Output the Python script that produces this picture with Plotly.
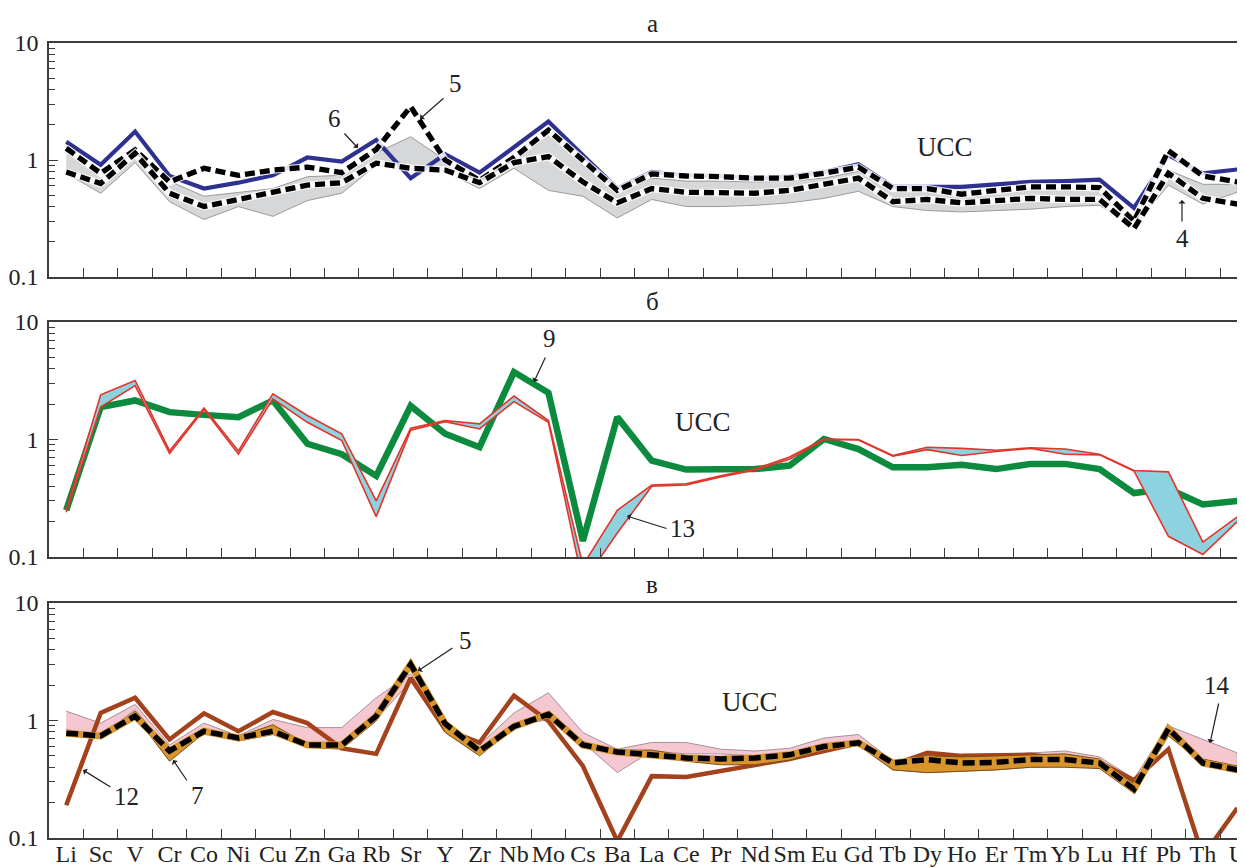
import math
import plotly.graph_objects as go

# ---------------- data ----------------
elements = ["Li", "Sc", "V", "Cr", "Co", "Ni", "Cu", "Zn", "Ga", "Rb", "Sr", "Y", "Zr", "Nb", "Mo",
            "Cs", "Ba", "La", "Ce", "Pr", "Nd", "Sm", "Eu", "Gd", "Tb", "Dy", "Ho", "Er", "Tm", "Yb",
            "Lu", "Hf", "Pb", "Th", "U"]
UCC = 1.0

# panel а
a_blue6 = [1.43, 0.91, 1.75, 0.73, 0.57, 0.64, 0.74, 1.05, 0.97, 1.48, 0.70, 1.12, 0.78, 1.30, 2.13,
           1.10, 0.57, 0.79, 0.74, 0.73, 0.70, 0.72, 0.79, 0.92, 0.59, 0.59, 0.59, 0.62, 0.65, 0.66,
           0.68, 0.39, 1.10, 0.77, 0.83]
a_dash5_upper = [1.26, 0.77, 1.22, 0.65, 0.85, 0.74, 0.82, 0.87, 0.78, 1.23, 2.86, 1.00, 0.67, 1.05, 1.80,
                 1.00, 0.55, 0.76, 0.73, 0.72, 0.70, 0.70, 0.77, 0.87, 0.57, 0.57, 0.51, 0.55, 0.59, 0.59,
                 0.58, 0.30, 1.20, 0.73, 0.65]
a_dash5_lower = [0.79, 0.63, 1.14, 0.52, 0.40, 0.46, 0.54, 0.61, 0.64, 0.94, 0.85, 0.82, 0.64, 0.95, 1.07,
                 0.65, 0.43, 0.57, 0.53, 0.52, 0.52, 0.55, 0.62, 0.70, 0.44, 0.46, 0.43, 0.45, 0.47, 0.46,
                 0.46, 0.26, 0.77, 0.47, 0.42]
a_band4_max = [1.30, 0.80, 1.20, 0.66, 0.49, 0.53, 0.57, 0.72, 0.74, 1.15, 1.58, 1.00, 0.65, 0.95, 1.75,
               0.90, 0.53, 0.70, 0.66, 0.66, 0.65, 0.66, 0.70, 0.80, 0.57, 0.56, 0.55, 0.56, 0.57, 0.57,
               0.59, 0.33, 0.82, 0.62, 0.62]
a_band4_min = [0.77, 0.52, 0.95, 0.44, 0.31, 0.40, 0.33, 0.45, 0.52, 0.90, 0.82, 0.80, 0.57, 0.85, 0.55,
               0.49, 0.32, 0.46, 0.40, 0.40, 0.41, 0.43, 0.47, 0.54, 0.40, 0.37, 0.36, 0.37, 0.38, 0.40,
               0.41, 0.27, 0.61, 0.42, 0.53]

# panel б
b_green9 = [0.25, 1.89, 2.15, 1.71, 1.62, 1.55, 2.15, 0.92, 0.75, 0.49, 1.93, 1.12, 0.86, 3.75, 2.50,
            0.137, 1.55, 0.66, 0.555, 0.555, 0.56, 0.60, 1.01, 0.83, 0.58, 0.58, 0.61, 0.56, 0.62, 0.62,
            0.56, 0.35, 0.38, 0.28, 0.30]
b_band13_max = [0.25, 2.40, 3.18, 0.80, 1.85, 0.80, 2.45, 1.60, 1.12, 0.30, 1.25, 1.45, 1.36, 2.34, 1.45,
                0.085, 0.25, 0.41, 0.42, 0.49, 0.56, 0.71, 1.01, 1.00, 0.73, 0.86, 0.84, 0.81, 0.85, 0.83,
                0.75, 0.545, 0.53, 0.134, 0.22]
b_band13_min = [0.24, 1.89, 2.88, 0.76, 1.80, 0.75, 2.22, 1.40, 0.98, 0.22, 1.20, 1.42, 1.23, 2.10, 1.40,
                0.06, 0.16, 0.40, 0.41, 0.48, 0.55, 0.68, 1.00, 0.99, 0.72, 0.82, 0.73, 0.79, 0.84, 0.75,
                0.74, 0.54, 0.15, 0.105, 0.20]

# panel в
c_brown12 = [0.19, 1.16, 1.56, 0.69, 1.15, 0.81, 1.18, 0.95, 0.58, 0.52, 2.30, 0.84, 0.65, 1.63, 0.99,
             0.41, 0.094, 0.336, 0.33, 0.37, 0.41, 0.47, 0.55, 0.64, 0.42, 0.53, 0.50, 0.50, 0.51, 0.47,
             0.44, 0.31, 0.57, 0.07, 0.18]
c_band14_max = [1.20, 0.95, 1.37, 0.62, 0.95, 0.74, 1.02, 0.87, 0.87, 1.56, 2.50, 0.95, 0.62, 1.16, 1.72,
                0.79, 0.57, 0.65, 0.65, 0.57, 0.55, 0.58, 0.71, 0.76, 0.45, 0.50, 0.49, 0.50, 0.53, 0.55,
                0.49, 0.32, 0.90, 0.69, 0.53]
c_band14_min = [0.84, 0.74, 1.24, 0.55, 0.84, 0.69, 0.87, 0.62, 0.62, 1.02, 2.16, 0.87, 0.57, 0.89, 1.02,
                0.65, 0.36, 0.55, 0.52, 0.52, 0.50, 0.52, 0.60, 0.61, 0.38, 0.36, 0.37, 0.38, 0.40, 0.41,
                0.40, 0.25, 0.77, 0.44, 0.37]
c_band7_max = [0.78, 0.74, 1.20, 0.58, 0.82, 0.73, 0.92, 0.63, 0.63, 1.16, 3.00, 0.95, 0.57, 0.91, 1.17,
               0.66, 0.56, 0.56, 0.50, 0.48, 0.47, 0.51, 0.61, 0.67, 0.45, 0.50, 0.49, 0.50, 0.51, 0.52,
               0.47, 0.29, 0.90, 0.47, 0.41]
c_band7_min = [0.74, 0.72, 1.09, 0.45, 0.78, 0.67, 0.76, 0.59, 0.57, 0.99, 2.80, 0.79, 0.50, 0.86, 1.06,
               0.62, 0.52, 0.50, 0.45, 0.42, 0.42, 0.46, 0.57, 0.62, 0.38, 0.36, 0.37, 0.38, 0.40, 0.40,
               0.39, 0.24, 0.74, 0.43, 0.36]
c_dash5 = [0.78, 0.74, 1.09, 0.55, 0.81, 0.71, 0.81, 0.62, 0.62, 1.09, 3.00, 0.94, 0.55, 0.89, 1.13,
           0.62, 0.54, 0.51, 0.48, 0.47, 0.48, 0.51, 0.60, 0.645, 0.435, 0.465, 0.435, 0.44, 0.465, 0.465,
           0.435, 0.26, 0.85, 0.435, 0.38]

# ---------------- figure ----------------
OFF = 8                      # page body margin of the html page
W, H = 1245 - OFF, 868 - OFF
ML = 49 - OFF
FONT = "Liberation Serif, Times New Roman, serif"
AX = "#3c3c3c"
TXT = "#222222"
idx = list(range(len(elements)))

def sfx(n):
    return "" if n == 1 else str(n)

def px(x):
    return (x - OFF - ML) / (W - ML)

def py(y):
    return 1 - (y - OFF) / H

fig = go.Figure()

def add_line(n, y, color, width, dash=None):
    fig.add_trace(go.Scatter(x=idx, y=y, mode="lines", xaxis="x" + sfx(n), yaxis="y" + sfx(n),
                             line=dict(color=color, width=width, dash=dash),
                             hoverinfo="skip", showlegend=False))

def add_band(n, upper, lower, fill, edge, ew):
    fig.add_trace(go.Scatter(x=idx + idx[::-1], y=upper + lower[::-1], mode="lines",
                             fill="toself", fillcolor=fill, xaxis="x" + sfx(n), yaxis="y" + sfx(n),
                             line=dict(color=edge, width=ew),
                             hoverinfo="skip", showlegend=False))

# panel а (axes 1)
add_band(1, a_band4_max, a_band4_min, "#d5d7d9", "#9a9a9a", 1)
add_line(1, a_blue6, "#2e3190", 4.2)
for s in (a_dash5_upper, a_dash5_lower):
    add_line(1, s, "rgba(255,255,255,0.85)", 7.5)
    add_line(1, s, "#000000", 5.3, "10px,5px")

# panel б (axes 2)
add_line(2, b_green9, "#0c8a3e", 6.5)
add_band(2, b_band13_max, b_band13_min, "#8dd2de", "rgba(0,0,0,0)", 0)
add_line(2, b_band13_max, "#e2352a", 1.6)
add_line(2, b_band13_min, "#e2352a", 1.6)

# panel в (axes 3)
add_band(3, c_band14_max, c_band14_min, "#f5c8d1", "#a89098", 1)
add_line(3, c_brown12, "#a3421c", 4.5)
add_band(3, c_band7_max, c_band7_min, "#d8952c", "#7a4a1a", 1)
add_line(3, c_dash5, "#d8952c", 7)
add_line(3, c_dash5, "#000000", 5.5, "12px,5px")

def dom(top, bottom):
    return [1 - (bottom - OFF) / H, 1 - (top - OFF) / H]

domains = {1: dom(43, 277), 2: dom(322, 557), 3: dom(603, 838)}
minor_vals = [m * 10 ** e for e in (-1, 0) for m in range(2, 10)]
x_right = 34 + (1245 - (66 + 34 * 34.45)) / 34.45

layout = dict(width=W, height=H, margin=dict(l=ML, r=0, t=0, b=0),
              paper_bgcolor="white", plot_bgcolor="white",
              font=dict(family=FONT, color=TXT))
for n in (1, 2, 3):
    layout["xaxis" + sfx(n)] = dict(
        domain=[0, 1], anchor="y" + sfx(n), range=[-0.5, x_right], showgrid=False, zeroline=False,
        showline=True, linecolor=AX, linewidth=1.6, mirror=True,
        tickmode="array", tickvals=idx, ticktext=elements, ticks="", ticklen=0, tickangle=0,
        ticklabelstandoff=-7, ticklabeloverflow="allow",
        showticklabels=(n == 3), tickfont=dict(family=FONT, size=24, color=TXT),
        minor=dict(tickmode="array", tickvals=[i + 0.5 for i in idx[:-1]], ticks="inside",
                   ticklen=9, tickcolor=AX, tickwidth=1.3, showgrid=False),
        automargin=False, fixedrange=True)
    layout["yaxis" + sfx(n)] = dict(
        domain=domains[n], anchor="x" + sfx(n), type="log", range=[-1, 1], showgrid=False,
        zeroline=False, showline=True, linecolor=AX, linewidth=1.6,
        tickmode="array", tickvals=[0.1, 1, 10], ticktext=["0.1", "1", "10"], ticks="inside",
        ticklen=9, tickcolor=AX, tickwidth=1.3,
        minor=dict(tickmode="array", tickvals=minor_vals, ticks="inside", ticklen=6,
                   tickcolor=AX, tickwidth=1.2, showgrid=False),
        tickfont=dict(family=FONT, size=24, color=TXT), ticklabelstandoff=4,
        automargin=False, fixedrange=True)
fig.update_layout(**layout)

shapes = []
for n in (1, 2, 3):
    shapes.append(dict(type="line", xref="x" + sfx(n) + " domain", yref="y" + sfx(n), x0=0, x1=1,
                       y0=math.log10(UCC), y1=math.log10(UCC),
                       line=dict(color="#8c8c8c", width=1.6), layer="below"))
fig.update_layout(shapes=shapes)

ann = []
def text(x, y, s, size=25):
    ann.append(dict(xref="paper", yref="paper", x=px(x), y=py(y), text=s, showarrow=False,
                    font=dict(family=FONT, size=size, color=TXT), xanchor="center", yanchor="middle"))

def arrow(tx, ty, hx, hy):
    ann.append(dict(xref="paper", yref="paper", x=px(hx), y=py(hy), ax=tx - hx, ay=ty - hy,
                    axref="pixel", ayref="pixel", text="", showarrow=True, arrowhead=1,
                    arrowsize=1.0, arrowwidth=1.2, arrowcolor=TXT))

text(652, 23, "а")
text(652, 301, "б")
text(652, 584, "в")
text(945, 147, "UCC", 27)
text(703, 422, "UCC", 27)
text(750, 702, "UCC", 27)
text(334, 118, "6"); arrow(343, 132, 358, 148)
text(455, 83, "5"); arrow(445, 97, 420, 119)
text(1182, 239, "4"); arrow(1182, 223, 1182, 200)
text(549, 338, "9"); arrow(546, 356, 534, 382)
text(682, 528, "13"); arrow(668, 529, 627, 516)
text(465, 640, "5"); arrow(454, 647, 418, 671)
text(126, 796, "12"); arrow(112, 788, 83, 770)
text(197, 795, "7"); arrow(188, 782, 173, 760)
text(1217, 685, "14"); arrow(1219, 702, 1210, 743)
fig.update_layout(annotations=ann)

fig.write_html("out.html")
